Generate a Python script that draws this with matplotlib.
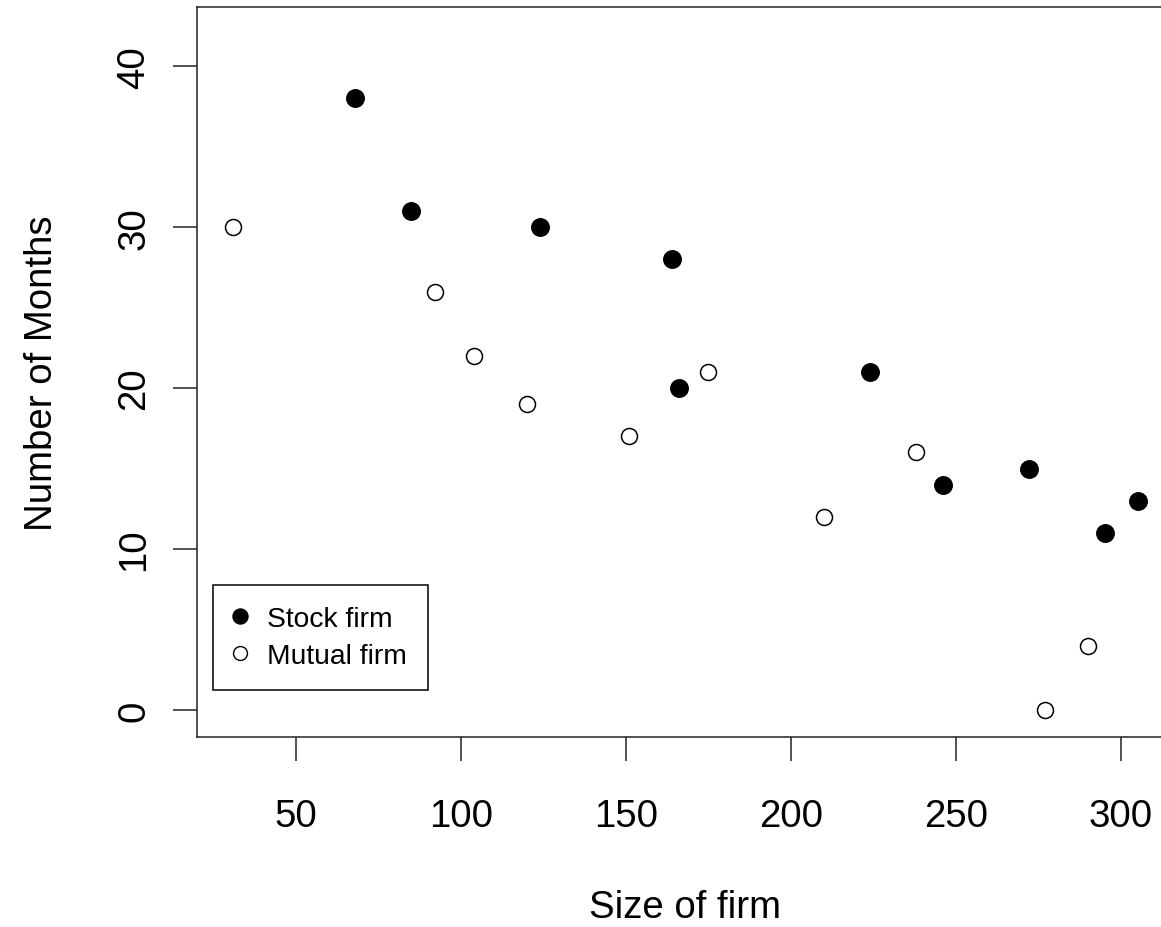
import matplotlib.pyplot as plt
from matplotlib.lines import Line2D

# Insurance innovation data: months to adopt vs size of firm
stock_size = [164, 272, 295, 68, 85, 224, 166, 305, 124, 246]
stock_months = [28, 15, 11, 38, 31, 21, 20, 13, 30, 14]
mutual_size = [151, 92, 175, 31, 104, 277, 210, 120, 290, 238]
mutual_months = [17, 26, 21, 30, 22, 0, 12, 19, 4, 16]

x_ticks = [50, 100, 150, 200, 250, 300]
y_ticks = [0, 10, 20, 30, 40]

plt.rcParams['font.family'] = ['Liberation Sans', 'DejaVu Sans']

fig = plt.figure(figsize=(11.61, 9.28), dpi=100)
# axes runs slightly past the right edge, as in the cropped original
ax = fig.add_axes([197 / 1161, 190 / 928, 976.7 / 1161, 730 / 928])

ax.plot(stock_size, stock_months, 'o', color='black', ms=12.6,
        linestyle='none')
ax.plot(mutual_size, mutual_months, 'o', mfc='white', mec='black',
        mew=1.1, ms=11.5, linestyle='none')

# R style axis extension (4%)
ax.set_xlim(31 - 0.04 * 274, 305 + 0.04 * 274)
ax.set_ylim(-0.04 * 42, 42 * 1.04)
ax.set_xticks(x_ticks)
ax.set_yticks(y_ticks)
ax.tick_params(axis='both', length=17, width=1.1, labelsize=27.6,
               color='#222222')
ax.tick_params(axis='x', pad=27)
ax.tick_params(axis='y', pad=15)
for lab in ax.get_yticklabels():
    lab.set_rotation(90)
    lab.set_va('center')
for side in ax.spines.values():
    side.set_linewidth(1.1)
    side.set_color('#222222')

ax.set_xlabel('Size of firm', fontsize=27.6, va='baseline')
ax.set_ylabel('Number of Months', fontsize=27.6, va='baseline')
ax.xaxis.set_label_coords(0.5, -(918 - 738) / 730)
ax.yaxis.set_label_coords((52 - 197) / 976.7, 0.5)

handles = [
    Line2D([], [], marker='o', color='black', linestyle='none', ms=10.8),
    Line2D([], [], marker='o', mfc='white', mec='black', mew=1.0,
           linestyle='none', ms=10),
]
leg = ax.legend(handles, ['Stock firm', 'Mutual firm'], fontsize=20.3,
                loc='upper left', bbox_to_anchor=(213 / 1161, 1 - 586 / 928),
                bbox_transform=fig.transFigure, fancybox=False,
                edgecolor='black', framealpha=1, borderpad=0.75,
                handlelength=0.45, handletextpad=0.7, labelspacing=0.37,
                borderaxespad=0)
leg.get_frame().set_linewidth(1.1)

fig.savefig('out.png', dpi=100)
